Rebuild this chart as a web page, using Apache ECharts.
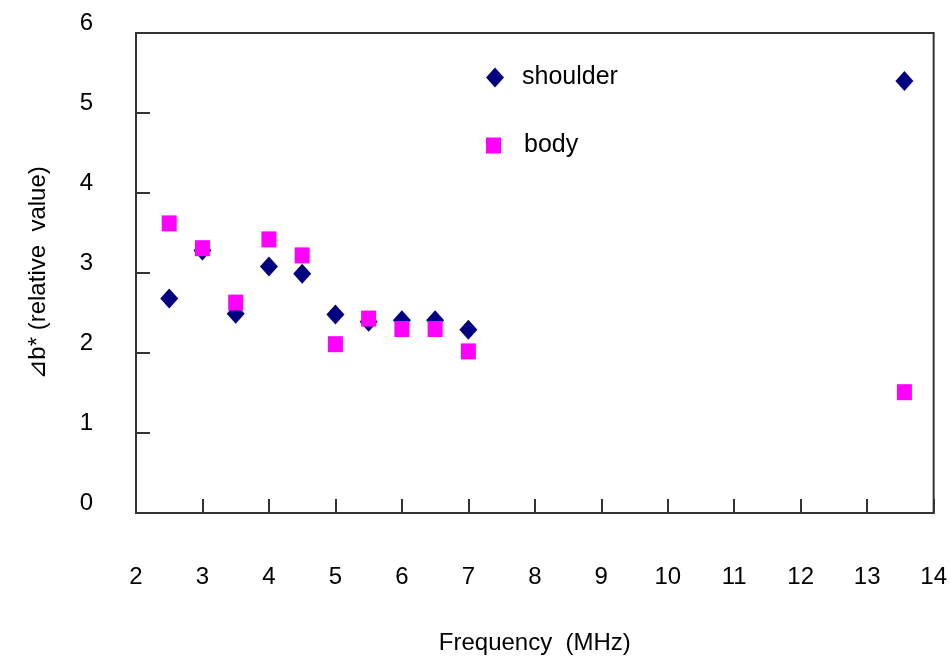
<!DOCTYPE html>
<html>
<head>
<meta charset="utf-8">
<script src="https://cdn.jsdelivr.net/npm/echarts@6/dist/echarts.min.js"></script>
<style>
html,body{margin:0;padding:0;background:#fff;}
#chart{width:950px;height:660px;}
</style>
</head>
<body>
<div id="chart"></div>
<script>
var frequency = [2.5, 3, 3.5, 4, 4.5, 5, 5.5, 6, 6.5, 7, 13.56];
var shoulder = [2.68, 3.28, 2.49, 3.08, 2.99, 2.48, 2.39, 2.41, 2.41, 2.29, 5.40];
var body = [3.62, 3.31, 2.63, 3.42, 3.22, 2.11, 2.43, 2.30, 2.30, 2.02, 1.51];
var xTicks = [2, 14, 1];
var yTicks = [0, 6, 1];

var FONT = 'Liberation Sans, Arial, DejaVu Sans, sans-serif';
function pairs(xs, ys) { return xs.map(function (x, i) { return [x, ys[i]]; }); }

var chart = echarts.init(document.getElementById('chart'), null, {renderer: 'canvas'});
chart.setOption({
  backgroundColor: '#ffffff',
  animation: false,
  grid: {left: 136, right: 15, top: 33, bottom: 145, show: true, borderColor: '#333', borderWidth: 2, backgroundColor: 'transparent'},
  legend: [
    {data: [{name: 'shoulder', icon: 'diamond'}], orient: 'vertical', left: 486, top: 65, padding: 0,
     itemWidth: 18, itemHeight: 20,
     textStyle: {fontFamily: FONT, fontSize: 25, color: '#000', padding: [0, 0, 0, 13]}},
    {data: [{name: 'body', icon: 'rect'}], orient: 'vertical', left: 486, top: 133, padding: 0,
     itemWidth: 15, itemHeight: 16,
     textStyle: {fontFamily: FONT, fontSize: 25, color: '#000', padding: [0, 0, 0, 18], verticalAlign: 'top', lineHeight: 14}}
  ],
  xAxis: {
    type: 'value', min: xTicks[0], max: xTicks[1], interval: xTicks[2],
    name: 'Frequency  (MHz)', nameLocation: 'middle', nameGap: 118,
    nameTextStyle: {fontFamily: FONT, fontSize: 24, color: '#000'},
    axisLine: {show: true, lineStyle: {color: '#333', width: 2}},
    axisTick: {show: true, inside: true, length: 14, lineStyle: {color: '#333', width: 2}},
    axisLabel: {fontFamily: FONT, fontSize: 24, color: '#000', margin: 52},
    splitLine: {show: false}
  },
  yAxis: {
    type: 'value', min: yTicks[0], max: yTicks[1], interval: yTicks[2],
    name: '⊿b* (relative  value)', nameLocation: 'middle', nameGap: 86, nameRotate: 90,
    nameTextStyle: {fontFamily: FONT, fontSize: 24, color: '#000'},
    axisLine: {show: true, lineStyle: {color: '#333', width: 2}},
    axisTick: {show: true, inside: true, length: 14, lineStyle: {color: '#333', width: 2}},
    axisLabel: {fontFamily: FONT, fontSize: 24, color: '#000', margin: 43, verticalAlign: 'bottom', lineHeight: 19},
    splitLine: {show: false}
  },
  series: [
    {name: 'shoulder', type: 'scatter', symbol: 'diamond', symbolSize: [18, 20],
     itemStyle: {color: '#000080', opacity: 1}, data: pairs(frequency, shoulder)},
    {name: 'body', type: 'scatter', symbol: 'rect', symbolSize: [15, 16],
     itemStyle: {color: '#ff00ff', opacity: 1}, data: pairs(frequency, body)}
  ]
});
</script>
</body>
</html>
